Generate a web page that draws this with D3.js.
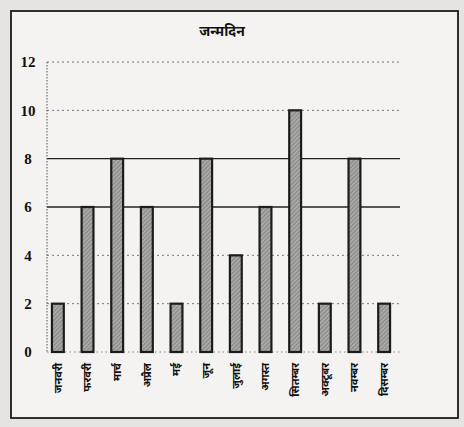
<!DOCTYPE html>
<html><head><meta charset="utf-8">
<script src="https://cdn.jsdelivr.net/npm/d3@7/dist/d3.min.js"></script>
<style>html,body{margin:0;padding:0;background:#e9e7e4;}svg{display:block;}</style>
</head><body>
<script>
const months = ["जनवरी","फरवरी","मार्च","अप्रैल","मई","जून","जुलाई","अगस्त","सितम्बर","अक्टूबर","नवम्बर","दिसम्बर"];
const birthdays = [2, 6, 8, 6, 2, 8, 4, 6, 10, 2, 8, 2];
const yTicks = [0, 2, 4, 6, 8, 10, 12];
const title = "जन्मदिन";

const W = 464, H = 427;
const svg = d3.select("body").append("svg").attr("width", W).attr("height", H);

const defs = svg.append("defs");
const pat = defs.append("pattern").attr("id","hatch").attr("patternUnits","userSpaceOnUse")
  .attr("width",3).attr("height",3).attr("patternTransform","rotate(45)");
pat.append("rect").attr("width",3).attr("height",3).attr("fill","#a9a9a7");
pat.append("line").attr("x1",0).attr("y1",0).attr("x2",0).attr("y2",3).attr("stroke","#6f6f6d").attr("stroke-width",1.2);

// paper
svg.append("rect").attr("x",0).attr("y",0).attr("width",W).attr("height",H).attr("fill","#e6e4e1");
svg.append("rect").attr("x",11).attr("y",11).attr("width",447).attr("height",407)
  .attr("fill","#f4f3f1").attr("stroke","#1a1a1a").attr("stroke-width",1.8);

const x = d3.scaleBand().domain(months).range([46, 396]).paddingInner(0.6).paddingOuter(0.2);
const y = d3.scaleLinear().domain([0, 12]).range([352, 62]);

// title
svg.append("text").attr("x", 222).attr("y", 36).attr("text-anchor","middle")
  .attr("font-family","'Noto Sans', 'Liberation Serif', serif").attr("font-size",14).attr("font-weight","bold")
  .attr("fill","#111").text(title);

// gridlines
const g = svg.append("g");
g.selectAll("line.grid").data(yTicks.filter(d => d > 0)).join("line")
  .attr("x1", 47).attr("x2", 400)
  .attr("y1", d => y(d)).attr("y2", d => y(d))
  .attr("stroke", d => (d === 6 || d === 8) ? "#222" : "#777")
  .attr("stroke-width", d => (d === 6 || d === 8) ? 1.3 : 1)
  .attr("stroke-dasharray", d => (d === 6 || d === 8) ? null : "2,3");

// y axis line (dotted)
g.append("line").attr("x1",47).attr("x2",47).attr("y1",y(12)).attr("y2",y(0))
  .attr("stroke","#555").attr("stroke-dasharray","1.5,1.5");
g.append("line").attr("x1",47).attr("x2",400).attr("y1",y(0)).attr("y2",y(0))
  .attr("stroke","#888").attr("stroke-dasharray","1.5,3");

// y tick labels
const yAxis = d3.axisLeft(y).tickValues(yTicks).tickSize(0).tickPadding(0);
const ya = svg.append("g").attr("transform","translate(33,0)").call(yAxis);
ya.select(".domain").remove();
ya.selectAll("text").attr("font-family","'Liberation Serif', serif").attr("font-size",15)
  .attr("font-weight","bold").attr("fill","#111").attr("text-anchor","middle").attr("x",-5);

// bars
svg.selectAll("rect.bar").data(birthdays).join("rect")
  .attr("class","bar")
  .attr("x", (d,i) => x(months[i]))
  .attr("y", d => y(d))
  .attr("width", x.bandwidth())
  .attr("height", d => y(0) - y(d))
  .attr("fill","url(#hatch)").attr("stroke","#1c1c1c").attr("stroke-width",2.2);

// x labels
const xAxis = d3.axisBottom(x).tickSize(0).tickPadding(0);
const xa = svg.append("g").attr("transform","translate(0,361)").call(xAxis);
xa.select(".domain").remove();
xa.selectAll("text")
  .attr("font-family","'Noto Sans', 'Liberation Serif', serif").attr("font-size",11).attr("font-weight","bold")
  .attr("fill","#111")
  .attr("transform","rotate(-90)")
  .attr("text-anchor","end").attr("x",-2).attr("y",0).attr("dy","0.35em");
</script>
</body></html>
